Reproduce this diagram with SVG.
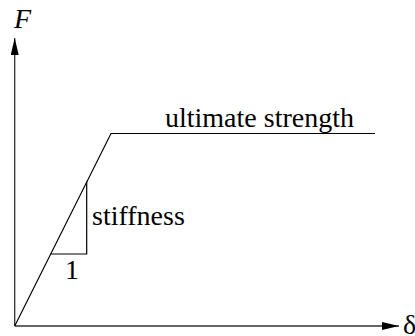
<svg xmlns="http://www.w3.org/2000/svg" width="415" height="336" viewBox="0 0 415 336">
<defs>
<style>
.ln{fill:none;stroke:#000;stroke-width:1.2}
.ax{fill:none;stroke:#333;stroke-width:1.3}
.t{font-family:"Liberation Serif","Times New Roman",serif;font-size:28px;fill:#000}
</style>
<marker id="ah" viewBox="0 0 17 8" refX="17" refY="4" markerWidth="17" markerHeight="8" markerUnits="userSpaceOnUse" orient="auto">
<path d="M0,0 L17,4 L0,8 z" fill="#000"/>
</marker>
</defs>
<rect width="415" height="336" fill="#fff"/>
<g id="axes">
<line class="ax" x1="14.7" y1="326" x2="14.7" y2="38" marker-end="url(#ah)"/>
<line class="ax" x1="14.7" y1="326" x2="399" y2="326" marker-end="url(#ah)"/>
<text class="t" x="14" y="28" font-style="italic">F</text>
<text class="t" x="403" y="334">δ</text>
</g>
<g id="curve">
<polyline class="ln" points="14.7,326 111,133.5 375,133.5"/>
<text class="t" x="165" y="127">ultimate strength</text>
</g>
<g id="stiffness">
<polyline class="ln" points="50.5,254 86.7,254 86.7,181.5"/>
<text class="t" x="92" y="225">stiffness</text>
<text class="t" x="65" y="279">1</text>
</g>
</svg>
